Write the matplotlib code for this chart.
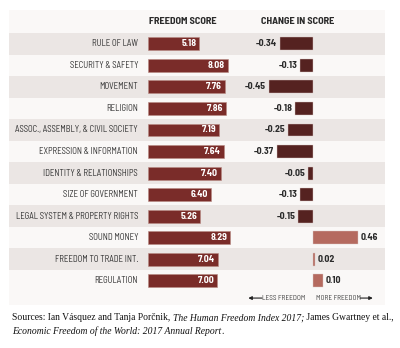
import matplotlib
matplotlib.use("Agg")
import matplotlib.pyplot as plt
import numpy as np

# rows, top to bottom
categories = [
    "RULE OF LAW", "SECURITY & SAFETY", "MOVEMENT", "RELIGION",
    "ASSOC., ASSEMBLY, & CIVIL SOCIETY", "EXPRESSION & INFORMATION",
    "IDENTITY & RELATIONSHIPS", "SIZE OF GOVERNMENT",
    "LEGAL SYSTEM & PROPERTY RIGHTS", "SOUND MONEY",
    "FREEDOM TO TRADE INT.", "REGULATION",
]
freedom_score = [5.18, 8.08, 7.76, 7.86, 7.19, 7.64, 7.40, 6.40, 5.26, 8.29, 7.04, 7.00]
score_change = [-0.34, -0.13, -0.45, -0.18, -0.25, -0.37, -0.05, -0.13, -0.15, 0.46, 0.02, 0.10]

W, H = 400, 348
SANS = ["Barlow Semi Condensed", "DejaVu Sans"]
BAR_RED = "#7a2c29"
NEG = "#552220"
POS = "#b56a5f"
TXT = "#2b2b2b"

fig = plt.figure(figsize=(W / 100, H / 100), dpi=100)
fig.patch.set_facecolor("white")

n = len(categories)
row_top, row_h = 33.0, 21.55        # pixel position of first row top, row height


def rect(x0, y0, x1, y1):
    # pixel box -> figure fraction rect
    return [x0 / W, 1 - y1 / H, (x1 - x0) / W, (y1 - y0) / H]


def row_at(py):
    return (py - row_top) / row_h - 0.5


# background panel with alternating stripes
panel_y0, panel_y1 = 10, 305
bg = fig.add_axes(rect(9, panel_y0, 385, panel_y1))
bg.set_xlim(0, 1)
bg.set_ylim(row_at(panel_y1), row_at(panel_y0))
bg.axis("off")
bg.add_patch(plt.Rectangle((0, 0), 1, 1, transform=bg.transAxes, color="#faf8f7", zorder=-1))
for i in range(0, n, 2):
    bg.axhspan(i - 0.5, i + 0.5, color="#ebe6e4", lw=0)

bar_y0, bar_y1 = row_top, row_top + row_h * n
y = np.arange(n)

# freedom score column
ax1 = fig.add_axes(rect(148, bar_y0, 247, bar_y1))
ax1.barh(y, freedom_score, height=0.6, color=BAR_RED, edgecolor="#b88a84", linewidth=0.4)
ax1.set_xlim(0, 10)
ax1.set_ylim(n - 0.5, -0.5)
ax1.axis("off")
for yi, v in zip(y, freedom_score):
    ax1.text(v - 0.3, yi, f"{v:.2f}", ha="right", va="center", color="white",
             fontsize=7.0, fontweight="bold", family=SANS)
for yi, c in zip(y, categories):
    ax1.text(-1.0, yi, c, ha="right", va="center", color="#333333",
             fontsize=6.3, family=SANS)
ax1.text(3.5, -1.05, "FREEDOM SCORE", ha="center", va="center", color=TXT,
         fontsize=7.4, fontweight="bold", family=SANS)

# change in score column
zero_px, unit_px = 313, 98
ax2 = fig.add_axes(rect(255, bar_y0, 385, bar_y1))
ax2.barh(y, score_change, height=0.6,
         color=[NEG if v < 0 else POS for v in score_change],
         edgecolor="#d9c8c5", linewidth=0.3)
ax2.set_xlim((255 - zero_px) / unit_px, (385 - zero_px) / unit_px)
ax2.set_ylim(n - 0.5, -0.5)
ax2.axis("off")
for yi, v in zip(y, score_change):
    if v < 0:
        ax2.text(v - 0.03, yi, f"{v:.2f}", ha="right", va="center", color=TXT,
                 fontsize=7.0, fontweight="bold", family=SANS)
    else:
        ax2.text(v + 0.03, yi, f"{v:.2f}", ha="left", va="center", color=TXT,
                 fontsize=7.0, fontweight="bold", family=SANS)
ax2.text(-0.16, -1.05, "CHANGE IN SCORE", ha="center", va="center", color=TXT,
         fontsize=7.4, fontweight="bold", family=SANS)

# direction hints under the change column
ay = 11.8
ax2.text(-0.08, ay, "LESS FREEDOM", ha="right", va="center", color="#444444",
         fontsize=5.2, family=SANS, clip_on=False)
ax2.annotate("", xy=(-0.66, ay), xytext=(-0.52, ay), xycoords="data",
             arrowprops=dict(arrowstyle="-|>", color="#222222", lw=0.8,
                             mutation_scale=5, shrinkA=0, shrinkB=0),
             annotation_clip=False)
ax2.text(0.03, ay, "MORE FREEDOM", ha="left", va="center", color="#444444",
         fontsize=5.2, family=SANS, clip_on=False)
ax2.annotate("", xy=(0.61, ay), xytext=(0.48, ay), xycoords="data",
             arrowprops=dict(arrowstyle="-|>", color="#222222", lw=0.8,
                             mutation_scale=5, shrinkA=0, shrinkB=0),
             annotation_clip=False)

# source note, mixed roman and italic
SERIF = ["Liberation Serif", "DejaVu Serif"]
lines = [
    [("Sources: Ian Vásquez and Tanja Porčnik, ", "normal"),
     ("The Human Freedom Index 2017;", "italic"),
     (" James Gwartney et al.,", "normal")],
    [("Economic Freedom of the World: 2017 Annual Report", "italic"),
     (".", "normal")],
]
renderer = fig.canvas.get_renderer()
for li, parts in enumerate(lines):
    x = 12
    ypx = 318 + li * 13
    for s, style in parts:
        t = fig.text(x / W, 1 - ypx / H, s, ha="left", va="center",
                     fontsize=6.9, style=style, family=SERIF, color="#111111")
        x += t.get_window_extent(renderer).width

fig.savefig("out.png", dpi=100, facecolor="white")
